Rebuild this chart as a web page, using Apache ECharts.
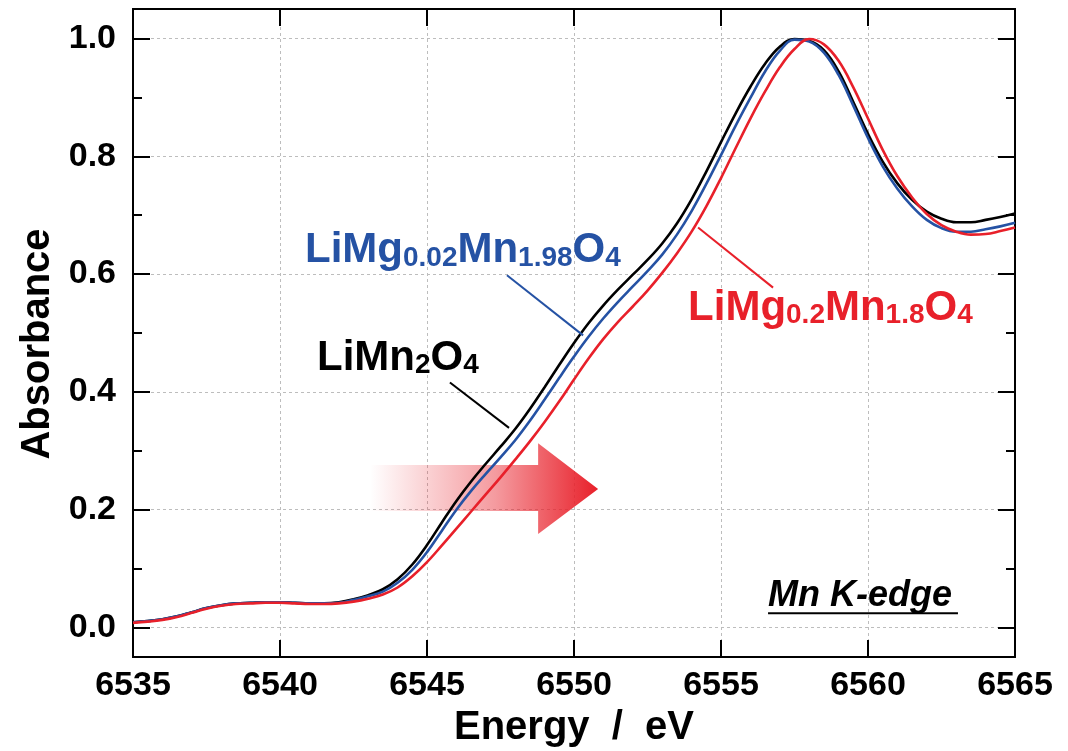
<!DOCTYPE html>
<html>
<head>
<meta charset="utf-8">
<script src="https://cdn.jsdelivr.net/npm/echarts@6/dist/echarts.min.js"></script>
<style>
  html, body { margin: 0; padding: 0; background: #ffffff; }
  #chart { width: 1068px; height: 751px; }
</style>
</head>
<body>
<div id="chart"></div>
<script>
// Mn K-edge XANES spectra, normalised absorbance vs. photon energy (eV)
const energies = [
  6535, 6535.5, 6536, 6536.5, 6537, 6537.5, 6538, 6538.5, 6539, 6539.5,
  6540, 6540.5, 6541, 6541.5, 6542, 6542.5, 6543, 6543.5, 6544, 6544.5,
  6545, 6545.5, 6546, 6546.5, 6547, 6547.5, 6548, 6548.5, 6549, 6549.5,
  6550, 6550.5, 6551, 6551.5, 6552, 6552.5, 6553, 6553.5, 6554, 6554.5,
  6555, 6555.5, 6556, 6556.5, 6557, 6557.5, 6558, 6558.5, 6559, 6559.5,
  6560, 6560.5, 6561, 6561.5, 6562, 6562.5, 6563, 6563.5, 6564, 6564.5,
  6565
];

// LiMn2O4
const absLiMn2O4 = [
  0.009, 0.011, 0.014, 0.019, 0.026, 0.033, 0.038, 0.041, 0.042, 0.043,
  0.043, 0.042, 0.041, 0.041, 0.043, 0.048, 0.055, 0.065, 0.082, 0.107,
  0.140, 0.178, 0.215, 0.248, 0.278, 0.307, 0.337, 0.371, 0.408, 0.446,
  0.483, 0.517, 0.547, 0.574, 0.599, 0.624, 0.652, 0.686, 0.727, 0.774,
  0.824, 0.873, 0.918, 0.957, 0.986, 0.999, 0.996, 0.980, 0.944, 0.892,
  0.838, 0.791, 0.754, 0.726, 0.706, 0.694, 0.688, 0.688, 0.692, 0.697,
  0.703
];

// LiMg0.02Mn1.98O4
const absLiMg002 = [
  0.009, 0.011, 0.014, 0.019, 0.026, 0.033, 0.038, 0.041, 0.042, 0.043,
  0.043, 0.042, 0.041, 0.041, 0.042, 0.047, 0.053, 0.061, 0.076, 0.098,
  0.128, 0.164, 0.200, 0.232, 0.261, 0.289, 0.318, 0.351, 0.387, 0.424,
  0.460, 0.494, 0.525, 0.553, 0.579, 0.605, 0.633, 0.667, 0.707, 0.753,
  0.802, 0.852, 0.899, 0.944, 0.979, 0.998, 0.995, 0.976, 0.938, 0.886,
  0.831, 0.783, 0.745, 0.715, 0.692, 0.678, 0.672, 0.672, 0.676, 0.681,
  0.687
];

// LiMg0.2Mn1.8O4
const absLiMg02 = [
  0.008, 0.010, 0.013, 0.018, 0.025, 0.032, 0.037, 0.040, 0.041, 0.042,
  0.042, 0.041, 0.040, 0.040, 0.041, 0.044, 0.049, 0.056, 0.068, 0.087,
  0.111, 0.139, 0.168, 0.197, 0.226, 0.255, 0.285, 0.316, 0.349, 0.384,
  0.421, 0.457, 0.490, 0.519, 0.545, 0.572, 0.602, 0.635, 0.672, 0.715,
  0.763, 0.814, 0.864, 0.910, 0.951, 0.982, 0.999, 0.990, 0.962, 0.917,
  0.864, 0.811, 0.766, 0.730, 0.702, 0.683, 0.672, 0.667, 0.668, 0.673,
  0.679
];

const seriesNames = ['LiMn2O4', 'LiMg0.02Mn1.98O4', 'LiMg0.2Mn1.8O4'];
const xAxisTitle = 'Energy  /  eV';
const yAxisTitle = 'Absorbance';
const edgeLabel = 'Mn K-edge';

const FONT = '"Liberation Sans", Arial, Helvetica, sans-serif';
const BLACK = '#000000';
const BLUE = '#2552a4';
const RED = '#e8202a';

const X_MIN = 6535, X_MAX = 6565, X_STEP = 5;
const Y_MIN = -0.05, Y_MAX = 1.05;

const pairs = arr => energies.map((e, i) => [e, arr[i]]);

const frameLine = { show: true, onZero: false, lineStyle: { color: '#000', width: 2 } };
const gridDash = { show: true, lineStyle: { color: '#bdbdbd', width: 1, type: [3, 3] } };

function xAxisDef(position, withLabels) {
  return {
    type: 'value', position: position,
    min: X_MIN, max: X_MAX, interval: X_STEP,
    axisLine: frameLine,
    axisTick: { show: true, inside: true, length: 17, lineStyle: { color: '#000', width: 2 } },
    axisLabel: {
      show: withLabels, margin: 12, color: '#000',
      fontFamily: FONT, fontWeight: 'bold', fontSize: 34,
      formatter: v => String(v)
    },
    splitLine: withLabels ? gridDash : { show: false },
    name: withLabels ? xAxisTitle : '',
    nameLocation: 'middle', nameGap: 40,
    nameTextStyle: { fontFamily: FONT, fontWeight: 'bold', fontSize: 40, color: '#000' }
  };
}

// major (0.2) and minor (0.1) tick axes on both sides
function yAxisDef(position, step, tickLen, withLabels) {
  return {
    type: 'value', position: position,
    min: Y_MIN, max: Y_MAX,
    minInterval: step, maxInterval: step,
    splitNumber: Math.round((Y_MAX - Y_MIN) / step),
    axisLine: frameLine,
    axisTick: { show: true, inside: true, length: tickLen, lineStyle: { color: '#000', width: 2 } },
    axisLabel: {
      show: withLabels, margin: 17, color: '#000',
      fontFamily: FONT, fontWeight: 'bold', fontSize: 34,
      formatter: v => {
        const k = v / 0.2;
        return Math.abs(k - Math.round(k)) < 1e-6 ? v.toFixed(1) : '';
      }
    },
    splitLine: withLabels ? gridDash : { show: false },
    name: withLabels ? yAxisTitle : '',
    nameLocation: 'middle', nameGap: 73, nameRotate: 90,
    nameTextStyle: {
      fontFamily: FONT, fontWeight: 'bold', fontSize: 40, color: '#000',
      padding: [0, 22, 0, 0]
    }
  };
}

function lineSeries(name, data, color) {
  return {
    name: name, type: 'line', data: pairs(data),
    xAxisIndex: 0, yAxisIndex: 0,
    smooth: 0.4, showSymbol: false, symbol: 'none',
    lineStyle: { color: color, width: 2.6 },
    z: 3
  };
}

const chart = echarts.init(document.getElementById('chart'), null, { renderer: 'canvas' });

chart.setOption({
  animation: false,
  backgroundColor: '#ffffff',
  grid: { left: 133, right: 53, top: 9, bottom: 94, containLabel: false, outerBoundsMode: 'none' },
  xAxis: [xAxisDef('bottom', true), xAxisDef('top', false)],
  yAxis: [
    yAxisDef('left', 0.2, 17, true),
    yAxisDef('left', 0.1, 9, false),
    yAxisDef('right', 0.2, 17, false),
    yAxisDef('right', 0.1, 9, false)
  ],
  series: [
    lineSeries(seriesNames[0], absLiMn2O4, BLACK),
    lineSeries(seriesNames[1], absLiMg002, BLUE),
    lineSeries(seriesNames[2], absLiMg02, RED)
  ]
});

// annotations placed in data coordinates
const toPx = p => chart.convertToPixel({ xAxisIndex: 0, yAxisIndex: 0 }, p);

function formulaRich(color) {
  return {
    m: { fontSize: 42, fontWeight: 'bold', fontFamily: FONT, fill: color, lineHeight: 42, verticalAlign: 'top' },
    s: { fontSize: 28, fontWeight: 'bold', fontFamily: FONT, fill: color, lineHeight: 28,
         verticalAlign: 'bottom', padding: [20, 0, 0, 0] }
  };
}

function formulaText(text, anchor, color) {
  const p = toPx(anchor);
  return {
    type: 'text', x: p[0], y: p[1], z: 20,
    style: { text: text, rich: formulaRich(color), align: 'left', verticalAlign: 'top' }
  };
}

function leader(a, b, color) {
  const p1 = toPx(a), p2 = toPx(b);
  return {
    type: 'line', z: 20,
    shape: { x1: p1[0], y1: p1[1], x2: p2[0], y2: p2[1] },
    style: { stroke: color, lineWidth: 2 }
  };
}

// shift arrow (towards higher energy)
const arrowPts = [
  [6543.06, 0.276], [6548.78, 0.276], [6548.78, 0.313], [6550.82, 0.235],
  [6548.78, 0.159], [6548.78, 0.198], [6543.06, 0.198]
].map(toPx);

const kEdgeAnchor = toPx([6556.6, 0.0847]);
const underlineA = toPx([6556.6, 0.0244]);
const underlineB = toPx([6563.06, 0.0244]);

chart.setOption({
  graphic: [
    {
      type: 'polygon', z: 1,
      shape: { points: arrowPts },
      style: {
        fill: new echarts.graphic.LinearGradient(0, 0, 1, 0, [
          { offset: 0, color: 'rgba(232,32,42,0)' },
          { offset: 0.55, color: 'rgba(232,32,42,0.45)' },
          { offset: 1, color: 'rgba(232,32,42,1)' }
        ])
      }
    },
    formulaText('{m|LiMg}{s|0.02}{m|Mn}{s|1.98}{m|O}{s|4}', [6540.85, 0.675], BLUE),
    formulaText('{m|LiMn}{s|2}{m|O}{s|4}', [6541.26, 0.493], BLACK),
    formulaText('{m|LiMg}{s|0.2}{m|Mn}{s|1.8}{m|O}{s|4}', [6553.88, 0.578], RED),
    leader([6547.72, 0.598], [6550.31, 0.496], BLUE),
    leader([6545.78, 0.416], [6547.79, 0.339], BLACK),
    leader([6554.22, 0.679], [6556.77, 0.577], RED),
    {
      type: 'text', x: kEdgeAnchor[0], y: kEdgeAnchor[1], z: 20,
      style: {
        text: edgeLabel, fill: '#000', align: 'left', verticalAlign: 'top',
        font: 'italic bold 36px ' + FONT
      }
    },
    {
      type: 'line', z: 20,
      shape: { x1: underlineA[0], y1: underlineA[1], x2: underlineB[0], y2: underlineB[1] },
      style: { stroke: '#000', lineWidth: 2 }
    }
  ]
});
</script>
</body>
</html>
